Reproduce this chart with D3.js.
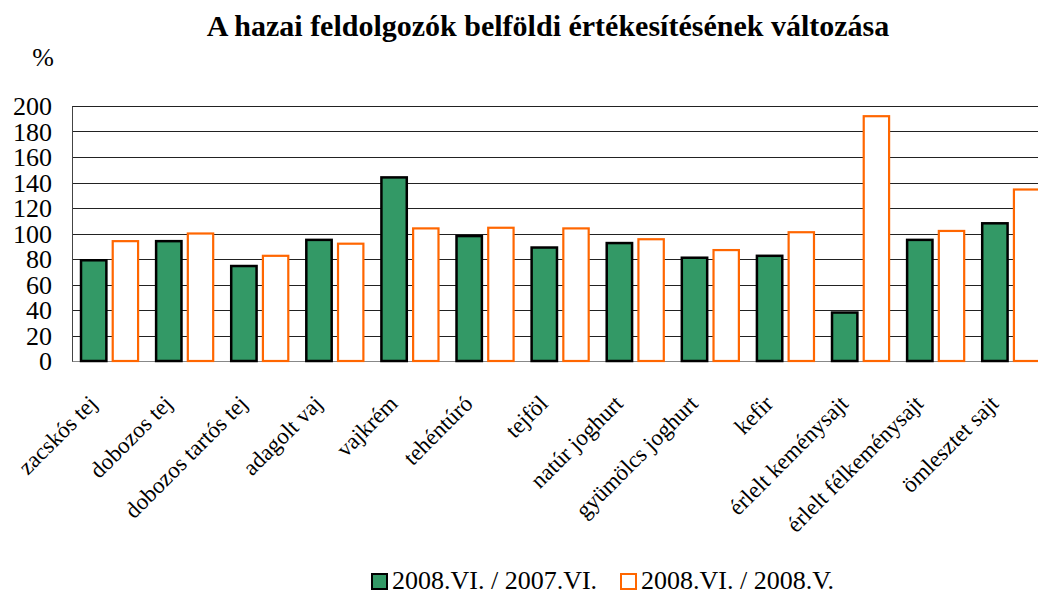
<!DOCTYPE html>
<html>
<head>
<meta charset="utf-8">
<script src="https://cdn.jsdelivr.net/npm/d3@7"></script>
<style>
  body { margin: 0; background: #fff; }
  svg text { font-family: "Liberation Serif", "Times New Roman", serif; fill: #000; }
</style>
</head>
<body>
<div id="chart"></div>
<script>
// Data
const categories = ["zacskós tej", "dobozos tej", "dobozos tartós tej", "adagolt vaj", "vajkrém",
  "tehéntúró", "tejföl", "natúr joghurt", "gyümölcs joghurt", "kefir",
  "érlelt keménysajt", "érlelt félkeménysajt", "ömlesztet sajt"];
const seriesNames = ["2008.VI. / 2007.VI.", "2008.VI. / 2008.V."];
const yoy = [79, 94, 74.5, 95, 144, 98, 89, 92.5, 81, 82.5, 38, 95, 108];
const mom = [94, 100, 82.5, 92, 104, 104.5, 104, 95.5, 87, 101, 192, 102, 134.5];
const yTicks = [0, 20, 40, 60, 80, 100, 120, 140, 160, 180, 200];

const width = 1038, height = 595;
const margin = { left: 72, top: 106 };
const plotH = 255;
const groupW = 75.1;
const plotW = groupW * categories.length;

const svg = d3.select("#chart").append("svg")
    .attr("width", width)
    .attr("height", height);

// Title
svg.append("text")
    .attr("x", 548)
    .attr("y", 36)
    .attr("text-anchor", "middle")
    .style("font-size", "30px")
    .style("font-weight", "bold")
    .text("A hazai feldolgozók belföldi értékesítésének változása");

svg.append("text")
    .attr("x", 43)
    .attr("y", 66)
    .attr("text-anchor", "middle")
    .style("font-size", "26px")
    .text("%");

const g = svg.append("g")
    .attr("transform", "translate(" + margin.left + "," + margin.top + ")");

const x0 = d3.scaleBand().domain(categories).range([0, plotW]).paddingInner(0.24).paddingOuter(0.12);
const x1 = d3.scaleBand().domain([0, 1]).range([0, x0.bandwidth()]).paddingInner(0.2);
const y = d3.scaleLinear().domain([0, 200]).range([plotH, 0]);

// Gridlines
g.selectAll("line.grid")
  .data(yTicks)
  .enter().append("line")
    .attr("class", "grid")
    .attr("x1", 0)
    .attr("x2", plotW)
    .attr("y1", d => Math.round(y(d)) + 0.5)
    .attr("y2", d => Math.round(y(d)) + 0.5)
    .attr("stroke", d => d === 0 ? "#888" : "#222")
    .attr("stroke-width", 1);

// Left axis
const yAxis = g.append("g")
    .call(d3.axisLeft(y).tickValues(yTicks).tickSize(0).tickPadding(20));
yAxis.attr("font-family", null).attr("font-size", null);
yAxis.select(".domain").attr("stroke", "#444");
yAxis.selectAll("text")
    .style("font-size", "26px")
    .attr("dy", "0.34em");

// Bars
const groups = g.selectAll("g.cat")
  .data(categories)
  .enter().append("g")
    .attr("class", "cat")
    .attr("transform", d => "translate(" + x0(d) + ",0)");

groups.append("rect")
    .attr("x", x1(0))
    .attr("width", x1.bandwidth())
    .attr("y", (d, i) => y(yoy[i]))
    .attr("height", (d, i) => y(0) - y(yoy[i]))
    .attr("fill", "#339966")
    .attr("stroke", "#000")
    .attr("stroke-width", 2.5);

groups.append("rect")
    .attr("x", x1(1))
    .attr("width", x1.bandwidth())
    .attr("y", (d, i) => y(mom[i]))
    .attr("height", (d, i) => y(0) - y(mom[i]))
    .attr("fill", "#fff")
    .attr("stroke", "#ff6600")
    .attr("stroke-width", 2.2);

// Category labels
g.selectAll("text.cat")
  .data(categories)
  .enter().append("text")
    .attr("class", "cat")
    .attr("text-anchor", "end")
    .attr("transform", d => "translate(" + (x0(d) + x0.bandwidth() / 2 - 11) + "," + (plotH + 44) + ") rotate(-45)")
    .style("font-size", "23px")
    .text(d => d);

// Legend
const legend = svg.append("g").attr("transform", "translate(371,572)");
const legendX = [0, 249];
seriesNames.forEach(function(name, i) {
  const lg = legend.append("g").attr("transform", "translate(" + legendX[i] + ",0)");
  lg.append("rect")
      .attr("x", 1)
      .attr("y", 2)
      .attr("width", 15)
      .attr("height", 15)
      .attr("fill", i === 0 ? "#339966" : "#fff")
      .attr("stroke", i === 0 ? "#000" : "#ff6600")
      .attr("stroke-width", 2);
  lg.append("text")
      .attr("x", 21)
      .attr("y", 17)
      .style("font-size", "26px")
      .text(name);
});
</script>
</body>
</html>
